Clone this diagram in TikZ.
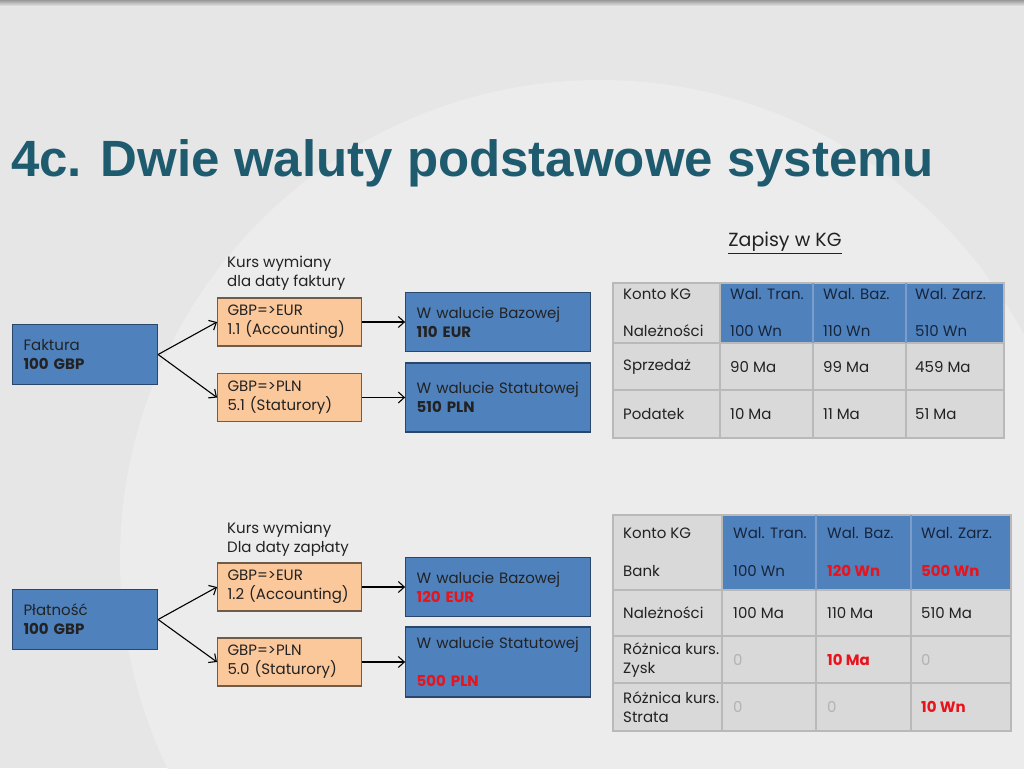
\documentclass[tikz,border=0pt]{standalone}
\usepackage{fontspec}
\setmainfont{Poppins}
\newfontfamily\titlefont{Liberation Sans}
\usetikzlibrary{positioning, arrows.meta}

\definecolor{slidebg}{HTML}{E6E6E7}
\definecolor{slidehi}{HTML}{ECECED}
\definecolor{titleteal}{HTML}{1F5B6E}
\definecolor{boxblue}{HTML}{4F81BD}
\definecolor{boxedge}{HTML}{2A476B}
\definecolor{rateorange}{HTML}{FAC89B}
\definecolor{rateedge}{HTML}{6E5B48}
\definecolor{cellgray}{HTML}{D9D9D9}
\definecolor{gridgray}{HTML}{B9B9B9}
\definecolor{gridblue}{HTML}{7C9DCB}
\definecolor{navytext}{HTML}{17253C}
\definecolor{bodytext}{HTML}{222222}
\definecolor{zerogray}{HTML}{B3B3B3}
\definecolor{alertred}{HTML}{E8131B}

\tikzset{
    body/.style={font=\fontsize{15}{19}\selectfont, text=bodytext},
    kwota/.style={body, draw=boxedge, fill=boxblue, line width=1.1pt, align=left,
        inner xsep=11pt, inner ysep=0pt},
    kurs/.style={body, draw=rateedge, fill=rateorange, line width=1.1pt, align=left,
        inner xsep=10pt, inner ysep=0pt, text width=124pt, minimum height=48pt},
    notka/.style={body, align=left, anchor=west, inner sep=0pt},
    cell/.style={body, anchor=west, align=left, inner sep=0pt},
    hd/.style={text=navytext},
    tx/.style={},
    rd/.style={text=alertred, font=\fontsize{15}{19}\selectfont\bfseries},
    zr/.style={text=zerogray},
}

\begin{document}
\begin{tikzpicture}[x=1pt, y=-1pt, >={Straight Barb[length=6pt, width=11pt]}]
    % background
    \useasboundingbox (0,0) rectangle (1024,768);
    \fill[slidebg] (0,0) rectangle (1024,768);
    \begin{scope}
        \clip (0,0) rectangle (1024,768);
        \fill[slidehi] (600,560) circle (480);
    \end{scope}
    \shade[top color=gray!80, bottom color=slidebg] (0,0) rectangle (1024,6);

    \node[anchor=base west, inner sep=0pt, text=titleteal,
        font=\titlefont\fontsize{51}{56}\selectfont\bfseries] (tytul) at (11,176)
        {4c. Dwie waluty podstawowe systemu};

    % faktura
    \node[notka] (opis1) at (227,273.5) {Kurs wymiany\\dla daty faktury};
    \node[kwota, text width=123pt, minimum height=60pt, anchor=west] (fak) at (12,354.5)
        {Faktura\\\textbf{100 GBP}};
    \node[kurs, anchor=west] (eur1) at (217,322) {GBP=>EUR\\1.1 (Accounting)};
    \node[kurs, anchor=west] (pln1) at (217,397.5) {GBP=>PLN\\5.1 (Staturory)};
    \node[kwota, text width=163pt, minimum height=59pt, right=43pt of eur1] (baz1)
        {W walucie Bazowej\\\textbf{110 EUR}};
    \node[kwota, text width=163pt, minimum height=69pt, right=43pt of pln1] (sta1)
        {W walucie Statutowej\\\textbf{510 PLN}};
    \path[->, line width=1.1pt]
    (fak.east) edge (eur1.west)
    (fak.east) edge (pln1.west)
    (eur1.east) edge (baz1.west)
    (pln1.east) edge (sta1.west);

    % platnosc
    \node[notka] (opis2) at (227,539.5) {Kurs wymiany\\Dla daty zapłaty};
    \node[kwota, text width=123pt, minimum height=60pt, anchor=west] (plat) at (12,619.5)
        {Płatność\\\textbf{100 GBP}};
    \node[kurs, anchor=west] (eur2) at (217,587) {GBP=>EUR\\1.2 (Accounting)};
    \node[kurs, anchor=west] (pln2) at (217,662) {GBP=>PLN\\5.0 (Staturory)};
    \node[kwota, text width=163pt, minimum height=59pt, right=43pt of eur2] (baz2)
        {W walucie Bazowej\\\textbf{\color{alertred}120 EUR}};
    \node[kwota, text width=163pt, minimum height=70pt, right=43pt of pln2] (sta2)
        {W walucie Statutowej\\[19pt]\textbf{\color{alertred}500 PLN}};
    \path[->, line width=1.1pt]
    (plat.east) edge (eur2.west)
    (plat.east) edge (pln2.west)
    (eur2.east) edge (baz2.west)
    (pln2.east) edge (sta2.west);

    % zapisy w KG
    \node[body, font=\fontsize{19}{22}\selectfont] (zapisy) at (785,243) {\underline{Zapisy w KG}};

    % tabela 1
    \fill[cellgray] (613,283) rectangle (1004,438);
    \fill[boxblue] (720,283) rectangle (1004,343);
    \draw[gridgray, line width=1.3pt]
    (613,283) rectangle (1004,438)
    (613,343) -- (1004,343)
    (613,390) -- (1004,390)
    (720,283) -- (720,438)
    (813,343) -- (813,438)
    (906,343) -- (906,438);
    \draw[gridblue, line width=1.3pt] (813,283) -- (813,343) (906,283) -- (906,343);
    \foreach \x/\y/\s/\t [count=\i] in {
        623/294/tx/Konto KG, 730/294/hd/Wal. Tran., 823/294/hd/Wal. Baz., 915/294/hd/Wal. Zarz.,
        623/331/tx/Należności, 730/331/hd/100 Wn, 823/331/hd/110 Wn, 915/331/hd/510 Wn,
        623/367/tx/Sprzedaż, 730/367/tx/90 Ma, 823/367/tx/99 Ma, 915/367/tx/459 Ma,
        623/414/tx/Podatek, 730/414/tx/10 Ma, 823/414/tx/11 Ma, 915/414/tx/51 Ma}
        \node[cell, \s] (ta\i) at (\x,\y) {\t};

    % tabela 2
    \fill[cellgray] (613,515) rectangle (1011,731);
    \fill[boxblue] (722,515) rectangle (1011,590);
    \draw[gridgray, line width=1.3pt]
    (613,515) rectangle (1011,731)
    (613,590) -- (1011,590)
    (613,636) -- (1011,636)
    (613,683) -- (1011,683)
    (722,515) -- (722,731)
    (816,590) -- (816,731)
    (911,590) -- (911,731);
    \draw[gridblue, line width=1.3pt] (816,515) -- (816,590) (911,515) -- (911,590);
    \foreach \x/\y/\s/\t [count=\i] in {
        623/533/tx/Konto KG, 733/533/hd/Wal. Tran., 827/533/hd/Wal. Baz., 921/533/hd/Wal. Zarz.,
        623/571/tx/Bank, 733/571/hd/100 Wn, 827/571/rd/120 Wn, 921/571/rd/500 Wn,
        623/613/tx/Należności, 733/613/tx/100 Ma, 827/613/tx/110 Ma, 921/613/tx/510 Ma,
        623/660/tx/Różnica kurs.\\Zysk, 733/660/zr/0, 827/660/rd/10 Ma, 921/660/zr/0,
        623/707/tx/Różnica kurs.\\Strata, 733/707/zr/0, 827/707/zr/0, 921/707/rd/10 Wn}
        \node[cell, \s] (tb\i) at (\x,\y) {\t};
\end{tikzpicture}
\end{document}
